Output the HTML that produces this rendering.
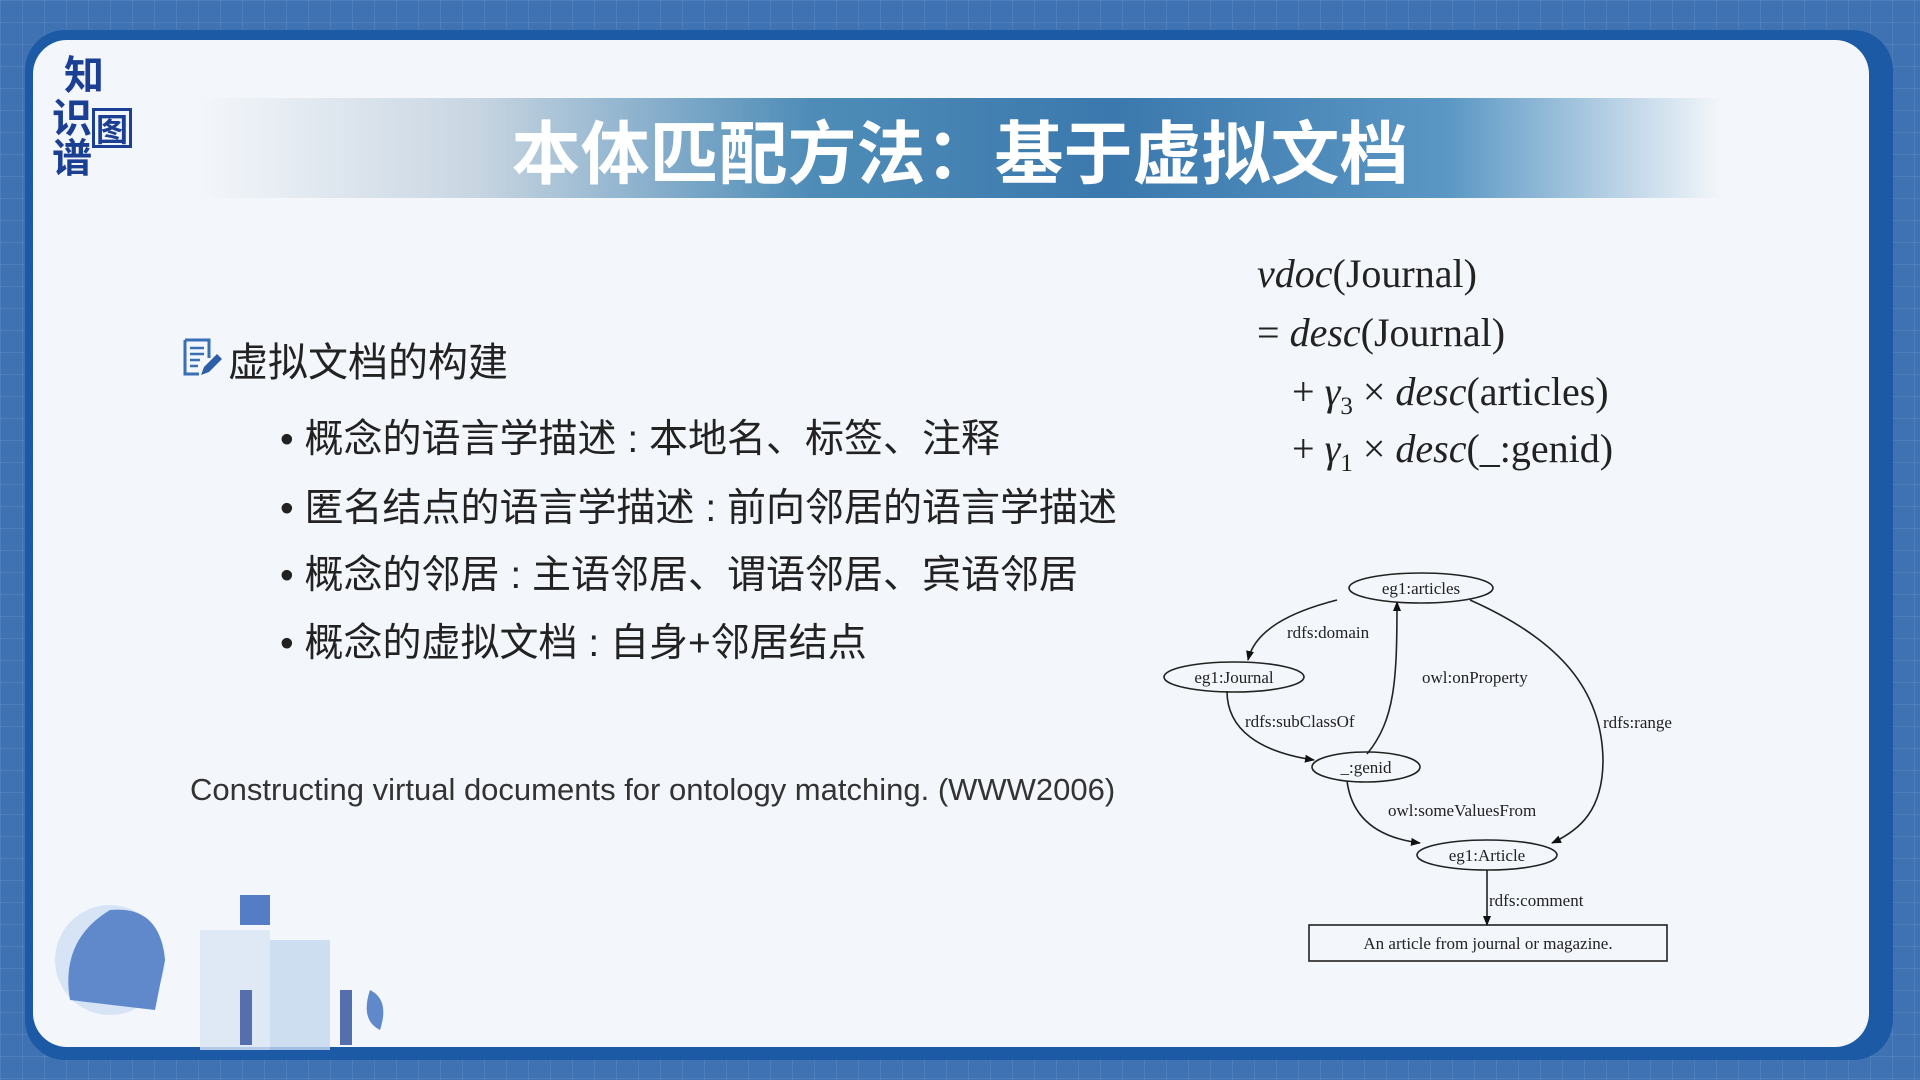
<!DOCTYPE html>
<html><head><meta charset="utf-8"><style>
body{margin:0;width:1920px;height:1080px;overflow:hidden;background:#3f72b3;position:relative;font-family:"Liberation Sans","Noto Sans CJK SC",sans-serif}
.bg{position:absolute;inset:0;background-image:linear-gradient(rgba(255,255,255,.08) 1px,transparent 1px),linear-gradient(90deg,rgba(255,255,255,.08) 1px,transparent 1px);background-size:22px 22px}
.frame{position:absolute;left:25px;top:30px;width:1868px;height:1030px;border-radius:40px;background:#1d5aa6}
.panel{position:absolute;left:33px;top:40px;width:1836px;height:1007px;border-radius:34px;background:#f3f6fa}
.band{position:absolute;left:200px;top:98px;width:1520px;height:100px;background:linear-gradient(90deg,rgba(243,246,250,0) 0%,#c9d6e2 18%,#4f8db8 40%,#3b78ad 60%,#5a97c4 82%,rgba(243,246,250,0) 100%)}
.title{position:absolute;left:0;width:1920px;top:108px;text-align:center;color:#fff;font-weight:bold;font-size:69px;line-height:80px;font-family:"Noto Sans CJK SC",sans-serif}
.logo{position:absolute;color:#1b3f93;font-weight:bold;font-family:"Noto Sans CJK SC",sans-serif;font-size:40px;line-height:40px}
.t{position:absolute;white-space:nowrap;color:#222}
.h{font-size:40px;left:228px;top:330px}
.b{font-size:39px;left:280px}
.f{font-family:"Liberation Serif","DejaVu Serif",serif;font-size:40px;left:1257px}
</style></head><body>
<div class="bg"></div>
<div class="frame"></div>
<div class="panel"></div>
<div class="band"></div>
<div class="title">本体匹配方法：基于虚拟文档</div>
<div class="logo" style="left:64px;top:52px">知</div>
<div class="logo" style="left:52px;top:95px">识</div>
<div class="logo" style="left:92px;top:108px;border:3px solid #1b3f93;width:34px;height:34px;font-size:32px;line-height:34px;text-align:center">图</div>
<div class="logo" style="left:52px;top:135px">谱</div>

<svg style="position:absolute;left:181px;top:337px" width="42" height="42" viewBox="0 0 42 42">
<path d="M4 3h24v18M4 3v34h14" fill="none" stroke="#3a6fb5" stroke-width="3"/>
<path d="M9 11h14M9 17h14M9 23h10M9 29h8" stroke="#3a6fb5" stroke-width="2.5"/>
<path d="M20 38l3-8 13-13 5 5-13 13z" fill="#2d5fa8"/>
</svg>
<div class="t h">虚拟文档的构建</div>
<div class="t b" style="top:408px">• 概念的语言学描述 : 本地名、标签、注释</div>
<div class="t b" style="top:477px">• 匿名结点的语言学描述 : 前向邻居的语言学描述</div>
<div class="t b" style="top:544px">• 概念的邻居 : 主语邻居、谓语邻居、宾语邻居</div>
<div class="t b" style="top:612px">• 概念的虚拟文档 : 自身+邻居结点</div>
<div class="t" style="left:190px;top:772px;font-size:31px;color:#333">Constructing virtual documents for ontology matching. (WWW2006)</div>

<div class="t f" style="top:250px"><i>vdoc</i>(Journal)</div>
<div class="t f" style="top:309px">= <i>desc</i>(Journal)</div>
<div class="t f" style="top:368px;left:1292px">+ <i>γ</i><sub style="font-size:25px">3</sub> × <i>desc</i>(articles)</div>
<div class="t f" style="top:425px;left:1292px">+ <i>γ</i><sub style="font-size:25px">1</sub> × <i>desc</i>(_:genid)</div>

<svg style="position:absolute;left:0;top:0" width="1920" height="1080">
<defs><marker id="a" markerWidth="10" markerHeight="10" refX="9" refY="5" orient="auto" markerUnits="userSpaceOnUse"><path d="M0,1L10,5L0,9z" fill="#111"/></marker></defs>
<g fill="none" stroke="#222" stroke-width="1.6">
<ellipse cx="1421" cy="588" rx="72" ry="15"/>
<ellipse cx="1234" cy="677" rx="70" ry="15"/>
<ellipse cx="1366" cy="767" rx="54" ry="15"/>
<ellipse cx="1487" cy="855" rx="70" ry="15"/>
<rect x="1309" y="925" width="358" height="36"/>
<path d="M1337,600 C1290,612 1255,630 1248,660" marker-end="url(#a)"/>
<path d="M1367,754 C1395,720 1397,680 1397,602" marker-end="url(#a)"/>
<path d="M1227,691 C1227,730 1260,752 1314,760" marker-end="url(#a)"/>
<path d="M1470,600 C1560,640 1602,690 1603,760 C1603,810 1580,830 1552,843" marker-end="url(#a)"/>
<path d="M1347,781 C1352,820 1380,838 1420,843" marker-end="url(#a)"/>
<path d="M1487,870 L1487,925" marker-end="url(#a)"/>
</g>
<g font-family="Liberation Serif,serif" font-size="17" fill="#222">
<text x="1421" y="594" text-anchor="middle">eg1:articles</text>
<text x="1234" y="683" text-anchor="middle">eg1:Journal</text>
<text x="1366" y="773" text-anchor="middle">_:genid</text>
<text x="1487" y="861" text-anchor="middle">eg1:Article</text>
<text x="1488" y="949" text-anchor="middle">An article from journal or magazine.</text>
<text x="1287" y="638">rdfs:domain</text>
<text x="1422" y="683">owl:onProperty</text>
<text x="1245" y="727">rdfs:subClassOf</text>
<text x="1603" y="728">rdfs:range</text>
<text x="1388" y="816">owl:someValuesFrom</text>
<text x="1489" y="906">rdfs:comment</text>
</g>
<g opacity=".8">
<circle cx="110" cy="960" r="55" fill="#cfe0f4"/>
<path d="M70 1000 q-10-60 40-90 q50-5 55 50 l-10 50z" fill="#3b6fc0"/>
<rect x="200" y="930" width="70" height="120" fill="#dbe7f6"/>
<rect x="270" y="940" width="60" height="110" fill="#c4d9f0"/>
<rect x="240" y="895" width="30" height="30" fill="#2e5fb8"/>
<path d="M370 990 q20 10 10 40 q-20-10-10-40z" fill="#3b6fc0"/>
<rect x="240" y="990" width="12" height="55" fill="#2e4d9a"/>
<rect x="340" y="990" width="12" height="55" fill="#2e4d9a"/>
</g>
</svg>
</body></html>
